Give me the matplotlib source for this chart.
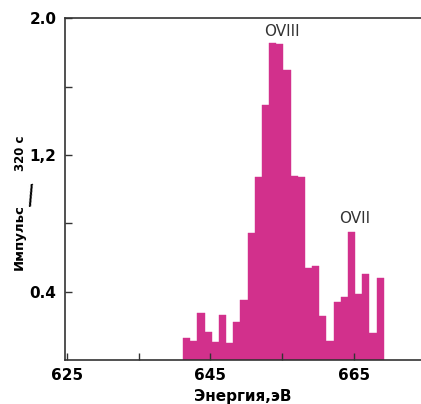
import matplotlib
matplotlib.use('Agg')
import matplotlib.pyplot as plt
import numpy as np

# histogram bins, 1 eV wide
bin_start = 641.2
bin_width = 1.0
counts = [0.127, 0.113, 0.277, 0.166, 0.107, 0.263, 0.097, 0.224, 0.351,
          0.741, 1.072, 1.491, 1.852, 1.848, 1.696, 1.076, 1.068, 0.536,
          0.550, 0.257, 0.113, 0.341, 0.370, 0.750, 0.386, 0.503, 0.156,
          0.478]

xticks = [625, 645, 665]
xminor = [635, 655]
yticks = [0.4, 1.2, 2.0]
ytick_labels = ['0.4', '1,2', '2.0']
yminor = [0.8, 1.6]
peaks = [('OVIII', 655.0, 1.92), ('OVII', 665.1, 0.825)]

COLOR = '#d2308c'

fig = plt.figure(figsize=(4.21, 4.04), dpi=100)
ax = fig.add_axes([0.154, 0.109, 0.846, 0.846])

edges = bin_start + bin_width * np.arange(len(counts))
ax.bar(edges, counts, width=bin_width, align='edge', color=COLOR,
       edgecolor=COLOR, linewidth=0.3)

for name, x, y in peaks:
    ax.text(x, y, name, ha='center', va='center', fontsize=11, color='#333')

ax.set_xlim(624.7, 674.4)
ax.set_ylim(0, 2.0)
ax.set_xticks(xticks)
ax.set_xticks(xminor, minor=True)
ax.set_yticks(yticks)
ax.set_yticklabels(ytick_labels)
ax.set_yticks(yminor, minor=True)
ax.tick_params(direction='in', length=5, width=1, color='#333',
               labelsize=11, pad=6)
ax.tick_params(which='minor', direction='in', length=5, width=1, color='#333')
for lab in ax.get_xticklabels() + ax.get_yticklabels():
    lab.set_fontweight('bold')

ax.spines['right'].set_visible(False)
for s in ('left', 'bottom', 'top'):
    ax.spines[s].set_color('#333')
    ax.spines[s].set_linewidth(1.2)

ax.set_xlabel('Энергия,эВ', fontsize=11, fontweight='bold', labelpad=4)
fig.text(0.046, 0.413, 'Импульс', rotation=90, ha='center', va='center',
         fontsize=9.5, fontweight='bold')
fig.text(0.074, 0.512, '/', ha='center', va='center', fontsize=19,
         rotation=12)
fig.text(0.048, 0.621, '320 с', rotation=90, ha='center', va='center',
         fontsize=8.5, fontweight='bold')

fig.savefig('out.png', dpi=100)
